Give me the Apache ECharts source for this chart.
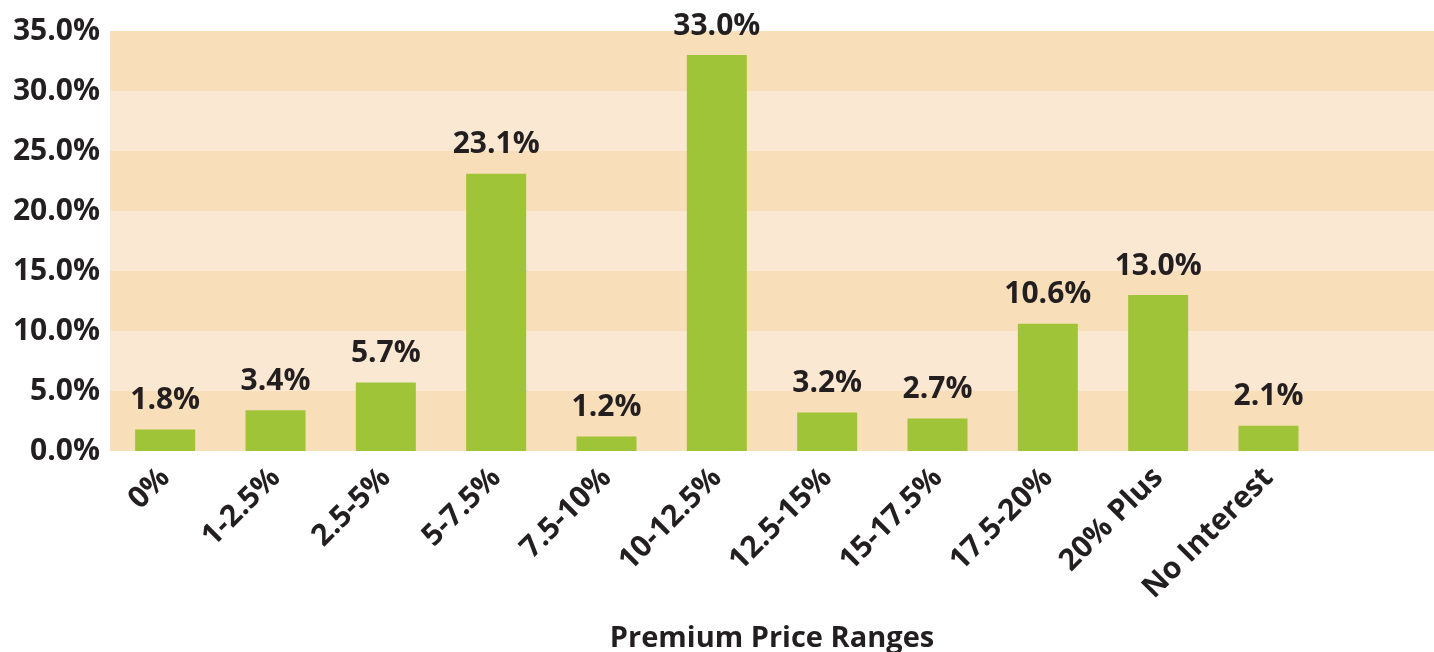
<!DOCTYPE html>
<html><head><meta charset="utf-8">
<script src="https://cdn.jsdelivr.net/npm/echarts@6/dist/echarts.min.js"></script>
<style>html,body{margin:0;padding:0;background:#fff}#c{width:1434px;height:652px}</style>
</head><body><div id="c"></div>
<script>
const categories = ['0%','1-2.5%','2.5-5%','5-7.5%','7.5-10%','10-12.5%','12.5-15%','15-17.5%','17.5-20%','20% Plus','No Interest',''];
const values = [1.8, 3.4, 5.7, 23.1, 1.2, 33.0, 3.2, 2.7, 10.6, 13.0, 2.1, null];
const yTicks = {min: 0, max: 35, interval: 5};
const axisTitle = 'Premium Price Ranges';

const FONT = '"Open Sans", "Noto Sans", sans-serif';
const TXT = '#231f20';
const chart = echarts.init(document.getElementById('c'), null, {renderer: 'canvas'});
chart.setOption({
  animation: false,
  grid: {left: 110, right: 0, top: 31, bottom: 201, containLabel: false, outerBoundsMode: 'none'},
  xAxis: {
    type: 'category', data: categories,
    name: axisTitle, nameLocation: 'middle', nameGap: 173,
    nameTextStyle: {fontFamily: FONT, fontWeight: 'bold', fontSize: 29, color: TXT},
    axisLine: {show: false}, axisTick: {show: false},
    axisLabel: {rotate: 45, interval: 0, margin: 22, fontFamily: FONT, fontWeight: 'bold', fontSize: 30, color: TXT}
  },
  yAxis: {
    type: 'value', min: yTicks.min, max: yTicks.max, interval: yTicks.interval,
    axisLine: {show: false}, axisTick: {show: false}, splitLine: {show: false},
    splitArea: {show: true, areaStyle: {color: ['#f8dfba', '#fae8d2']}},
    axisLabel: {margin: 10, fontFamily: FONT, fontWeight: 'bold', fontSize: 30, color: TXT,
      formatter: v => v.toFixed(1) + '%'}
  },
  series: [{
    type: 'bar', data: values, barWidth: 60,
    itemStyle: {color: '#a0c437'},
    label: {show: true, position: 'top', distance: 14, fontFamily: FONT, fontWeight: 'bold', fontSize: 30, color: TXT,
      formatter: p => p.value.toFixed(1) + '%'}
  }]
});
</script></body></html>
